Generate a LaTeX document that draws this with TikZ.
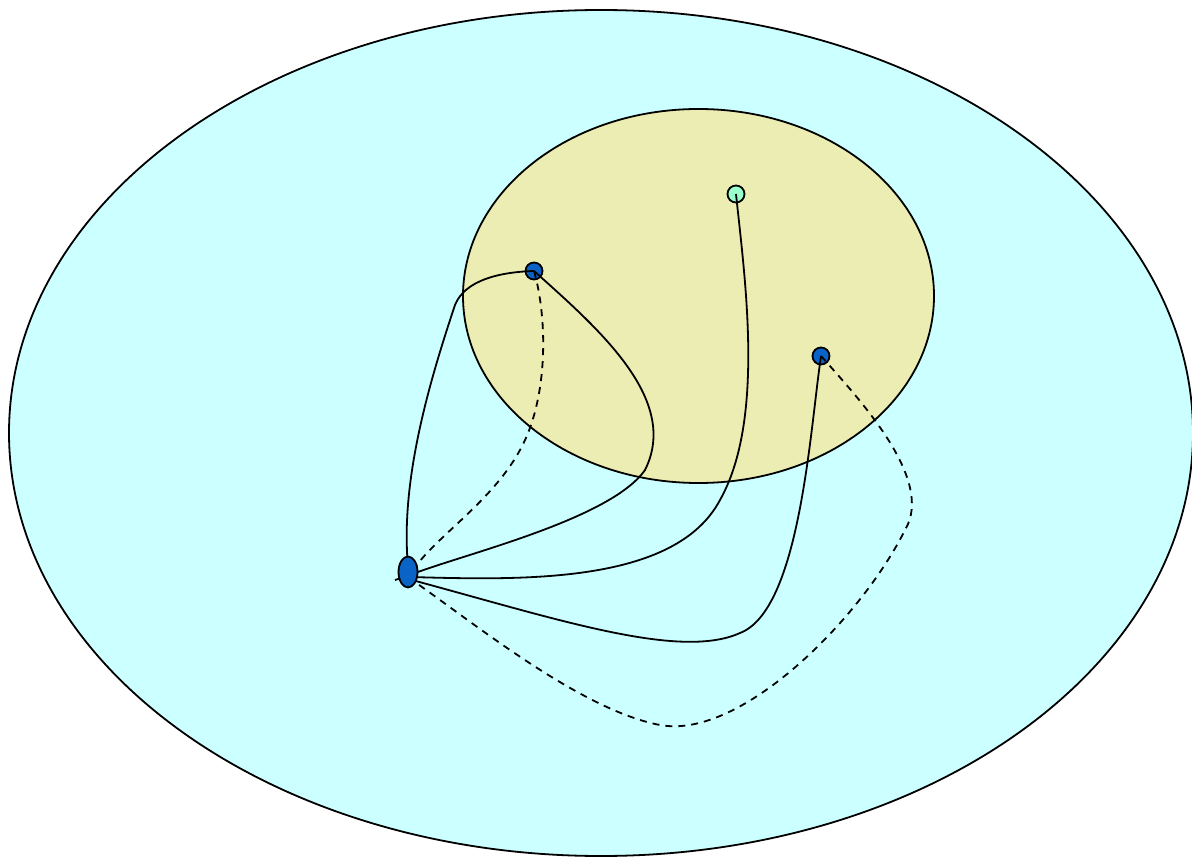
\documentclass[tikz,border=0pt]{standalone}
\usetikzlibrary{shapes.geometric}
\begin{document}
\begin{tikzpicture}[x=1pt,y=-1pt,
  edge/.style={line width=1.8pt},
  dedge/.style={line width=1.8pt, dash pattern=on 7pt off 6pt},
  vtx/.style={circle, draw, line width=1.8pt, fill=vblue, minimum size=17pt, inner sep=0pt},
]
\definecolor{vblue}{HTML}{0A64C8}
\definecolor{outerc}{HTML}{CCFFFF}
\definecolor{innerc}{HTML}{EBEDB3}
\definecolor{greenc}{HTML}{99FFCC}
\useasboundingbox (0,0) rectangle (1192,858);
\draw[line width=1.8pt, fill=outerc] (601,433) ellipse [x radius=592, y radius=423];
\draw[line width=1.8pt, fill=innerc] (698.5,296) ellipse [x radius=235.5, y radius=187];
\node[vtx] (a) at (534,271) {};
\node[vtx, fill=greenc] (b) at (736,194) {};
\node[vtx] (c) at (821,356) {};
\coordinate (t) at (395,580);
\draw[edge] (408,566) .. controls (400,480) and (430,380) .. (455,305) .. controls (465,280) and (500,272) .. (a.center);
\draw[dedge] (a.center) .. controls (548,320) and (548,400) .. (520,450) .. controls (490,505) and (430,540) .. (410,575);
\draw[edge] (a.center) .. controls (600,330) and (680,400) .. (645,470) .. controls (610,520) and (460,555) .. (410,575);
\draw[edge] (b.center) .. controls (745,280) and (765,420) .. (720,500) .. controls (675,585) and (520,580) .. (410,577);
\draw[edge] (c.center) .. controls (810,430) and (800,610) .. (740,633) .. controls (680,660) and (560,620) .. (412,580);
\draw[dedge] (c.center) .. controls (860,400) and (935,480) .. (905,530) .. controls (860,620) and (740,740) .. (660,725) .. controls (580,710) and (470,620) .. (412,580);
\draw[edge] (t) -- (408,576);
\node[draw, line width=1.8pt, fill=vblue, ellipse, minimum width=19pt, minimum height=31pt, inner sep=0pt] (d) at (408,572) {};
\end{tikzpicture}
\end{document}
